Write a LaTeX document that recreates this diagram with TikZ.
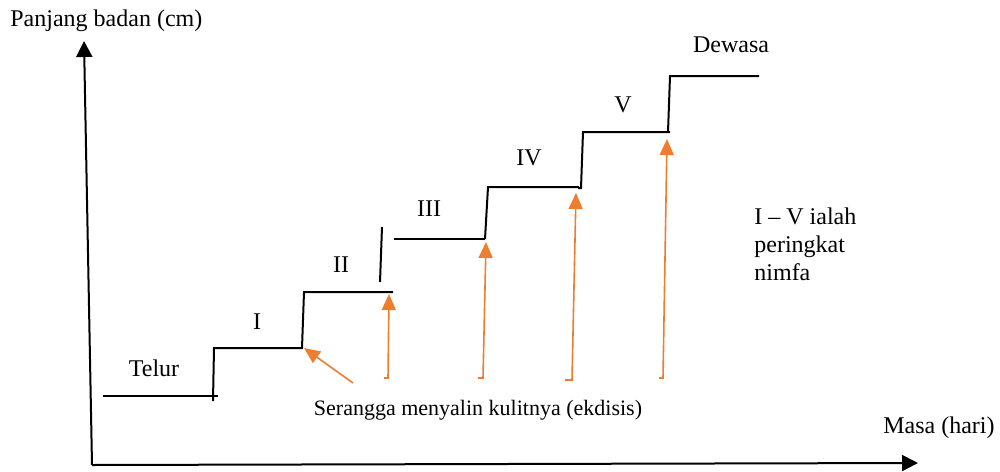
\documentclass[tikz,border=0pt]{standalone}
\usepackage{fontspec}
\setmainfont{Liberation Serif}
\newfontfamily\tnr[Ligatures=TeX]{Liberation Serif}
\usetikzlibrary{arrows.meta}
\definecolor{ora}{HTML}{ED7D31}
\tikzset{
  lbl/.style={inner sep=0pt, font=\tnr\fontsize{12}{14}\selectfont},
  stepline/.style={line width=1pt, black},
  axis/.style={line width=1pt, black, -{Triangle[length=8pt,width=8pt]}},
  molt/.style={line width=0.8pt, ora, -{Triangle[length=8pt,width=7pt]}},
}
\begin{document}
\begin{tikzpicture}[x=0.5pt,y=-0.5pt]
\useasboundingbox (0,0) rectangle (1000,471);
% axes
\coordinate (O) at (92,465);
\coordinate (ytip) at (84,41);
\coordinate (xtip) at (918,463);
\draw[axis] (O) -- (ytip);
\draw[axis] (O) -- (xtip);
% steps
\draw[stepline] (103,396) -- (218,396);
\draw[stepline] (213,401) -- (214,348) -- (302,348) -- (304,292) -- (393,292);
\draw[stepline] (380,282) -- (382,227);
\draw[stepline] (394,239) -- (485,239);
\draw[stepline] (485,239) -- (488,187) -- (579,187);
\draw[stepline] (578,188) -- (581,188) -- (583,132) -- (670,132);
\draw[stepline] (668,132) -- (670,76) -- (759,76);
% moult arrows
\coordinate (a1s) at (353,383); \coordinate (a1t) at (304,348);
\draw[molt] (a1s) -- (a1t);
\coordinate (a2f) at (384,378); \coordinate (a2b) at (388,378); \coordinate (a2t) at (389,294);
\draw[molt] (a2f) -- (a2b) -- (a2t);
\coordinate (a3f) at (478,378); \coordinate (a3b) at (483,378); \coordinate (a3t) at (486,242);
\draw[molt] (a3f) -- (a3b) -- (a3t);
\coordinate (a4f) at (565,380); \coordinate (a4b) at (572,380); \coordinate (a4t) at (576,193);
\draw[molt] (a4f) -- (a4b) -- (a4t);
\coordinate (a5f) at (659,378); \coordinate (a5b) at (663,378); \coordinate (a5t) at (667,139);
\draw[molt] (a5f) -- (a5b) -- (a5t);
% labels
\node[lbl, anchor=west] (ylab) at (10,21) {Panjang badan (cm)};
\node[lbl] (dew) at (731,45) {Dewasa};
\node[lbl] (v) at (623,105) {V};
\node[lbl] (iv) at (529,158) {IV};
\node[lbl] (iii) at (429,209) {III};
\node[lbl] (ii) at (341,265) {II};
\node[lbl] (i) at (257,322) {I};
\node[lbl] (tel) at (154,368) {Telur};
\node[lbl, anchor=north west, align=left] (note) at (754,207) {I – V ialah\\peringkat\\nimfa};
\node[lbl, font=\tnr\fontsize{11}{13}\selectfont] (ser) at (478,410) {Serangga menyalin kulitnya (ekdisis)};
\node[lbl, anchor=east] (xlab) at (995,428) {Masa (hari)};
\end{tikzpicture}
\end{document}
